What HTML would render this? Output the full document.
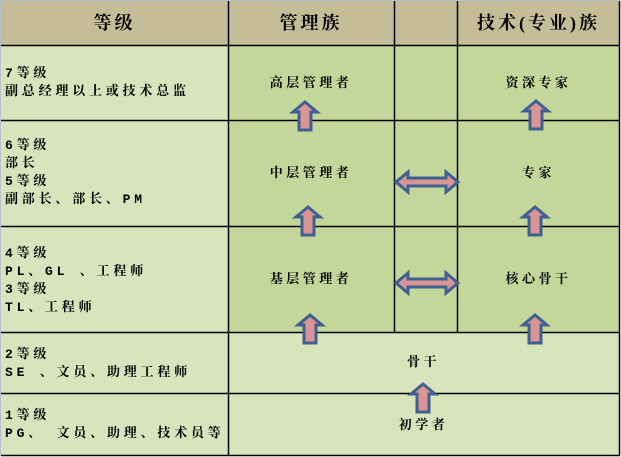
<!DOCTYPE html>
<html><head><meta charset="utf-8"><style>
html,body{margin:0;padding:0;background:#fff}
body{width:621px;height:457px;position:relative;overflow:hidden;font-family:"Liberation Mono","Noto Serif CJK SC",serif;font-weight:bold;color:#000}
.t{position:absolute;font-size:13px;letter-spacing:3.8px;line-height:18px;white-space:nowrap}
.h{position:absolute;font-size:18px;letter-spacing:3px;line-height:20px;white-space:nowrap;text-align:center;font-family:"Liberation Serif","Noto Serif CJK SC",serif}
.m{position:absolute;font-size:13px;letter-spacing:3.5px;line-height:16px;white-space:nowrap;text-align:center}
</style></head><body>
<svg width="621" height="457" style="position:absolute;left:0;top:0">
<rect x="0" y="0" width="621" height="457" fill="#fff"/>
<rect x="0" y="0" width="620" height="1" fill="#b8c0cc"/>
<rect x="0" y="0" width="1" height="456" fill="#b8c0cc"/>
<rect x="1" y="1" width="619" height="44" fill="#c4bd97"/>
<rect x="1" y="45" width="619" height="411" fill="#d8e4bc"/>
<rect x="228" y="45" width="391" height="287" fill="#c4d79b"/>
<g stroke="#000" stroke-width="1.5" fill="none">
<line x1="1" y1="45.5" x2="620" y2="45.5"/>
<line x1="1" y1="120.5" x2="620" y2="120.5"/>
<line x1="1" y1="226.5" x2="620" y2="226.5"/>
<line x1="1" y1="332.5" x2="620" y2="332.5"/>
<line x1="1" y1="393.5" x2="620" y2="393.5"/>
<line x1="1" y1="455.5" x2="620" y2="455.5"/>
<line x1="228.5" y1="1" x2="228.5" y2="456"/>
<line x1="394.5" y1="1" x2="394.5" y2="332"/>
<line x1="457.5" y1="1" x2="457.5" y2="332"/>
<line x1="619.5" y1="1" x2="619.5" y2="456"/>
</g>
<defs>
<path id="up" d="M0,0 L-12,10 L-6,10 L-6,28 L6,28 L6,10 L12,10 Z"/>
<path id="lr" d="M0,11 L12,1 L12,7 L50,7 L50,1 L62,11 L50,21 L50,15 L12,15 L12,21 Z"/>
</defs>
<g fill="#d99594" stroke="#3f6090" stroke-width="3" stroke-linejoin="miter">
<use href="#up" x="305" y="102"/>
<use href="#up" x="536" y="101"/>
<use href="#up" x="308" y="207"/>
<use href="#up" x="535" y="207"/>
<use href="#up" x="310" y="315"/>
<use href="#up" x="535" y="315"/>
<use href="#up" x="423" y="384"/>
<use href="#lr" x="396" y="171"/>
<use href="#lr" x="396" y="272"/>
</g>
</svg>
<div class="h" style="left:1px;width:227px;top:13px">等级</div>
<div class="h" style="left:228px;width:166px;top:13px">管理族</div>
<div class="h" style="left:457px;width:163px;top:13px">技术(专业)族</div>
<div class="t" style="left:5px;top:65px">7等级<br>副总经理以上或技术总监</div>
<div class="t" style="left:5px;top:137px">6等级<br>部长<br>5等级<br>副部长、部长、PM</div>
<div class="t" style="left:5px;top:245px">4等级<br>PL、GL 、工程师<br>3等级<br>TL、工程师</div>
<div class="t" style="left:5px;top:346px">2等级<br>SE 、文员、助理工程师</div>
<div class="t" style="left:5px;top:407px">1等级<br>PG、 文员、助理、技术员等</div>
<div class="m" style="left:228px;width:166px;top:76px">高层管理者</div>
<div class="m" style="left:457px;width:163px;top:76px">资深专家</div>
<div class="m" style="left:228px;width:166px;top:166px">中层管理者</div>
<div class="m" style="left:457px;width:163px;top:166px">专家</div>
<div class="m" style="left:228px;width:166px;top:272px">基层管理者</div>
<div class="m" style="left:457px;width:163px;top:272px">核心骨干</div>
<div class="m" style="left:228px;width:391px;top:355px">骨干</div>
<div class="m" style="left:228px;width:391px;top:418px">初学者</div>
</body></html>
